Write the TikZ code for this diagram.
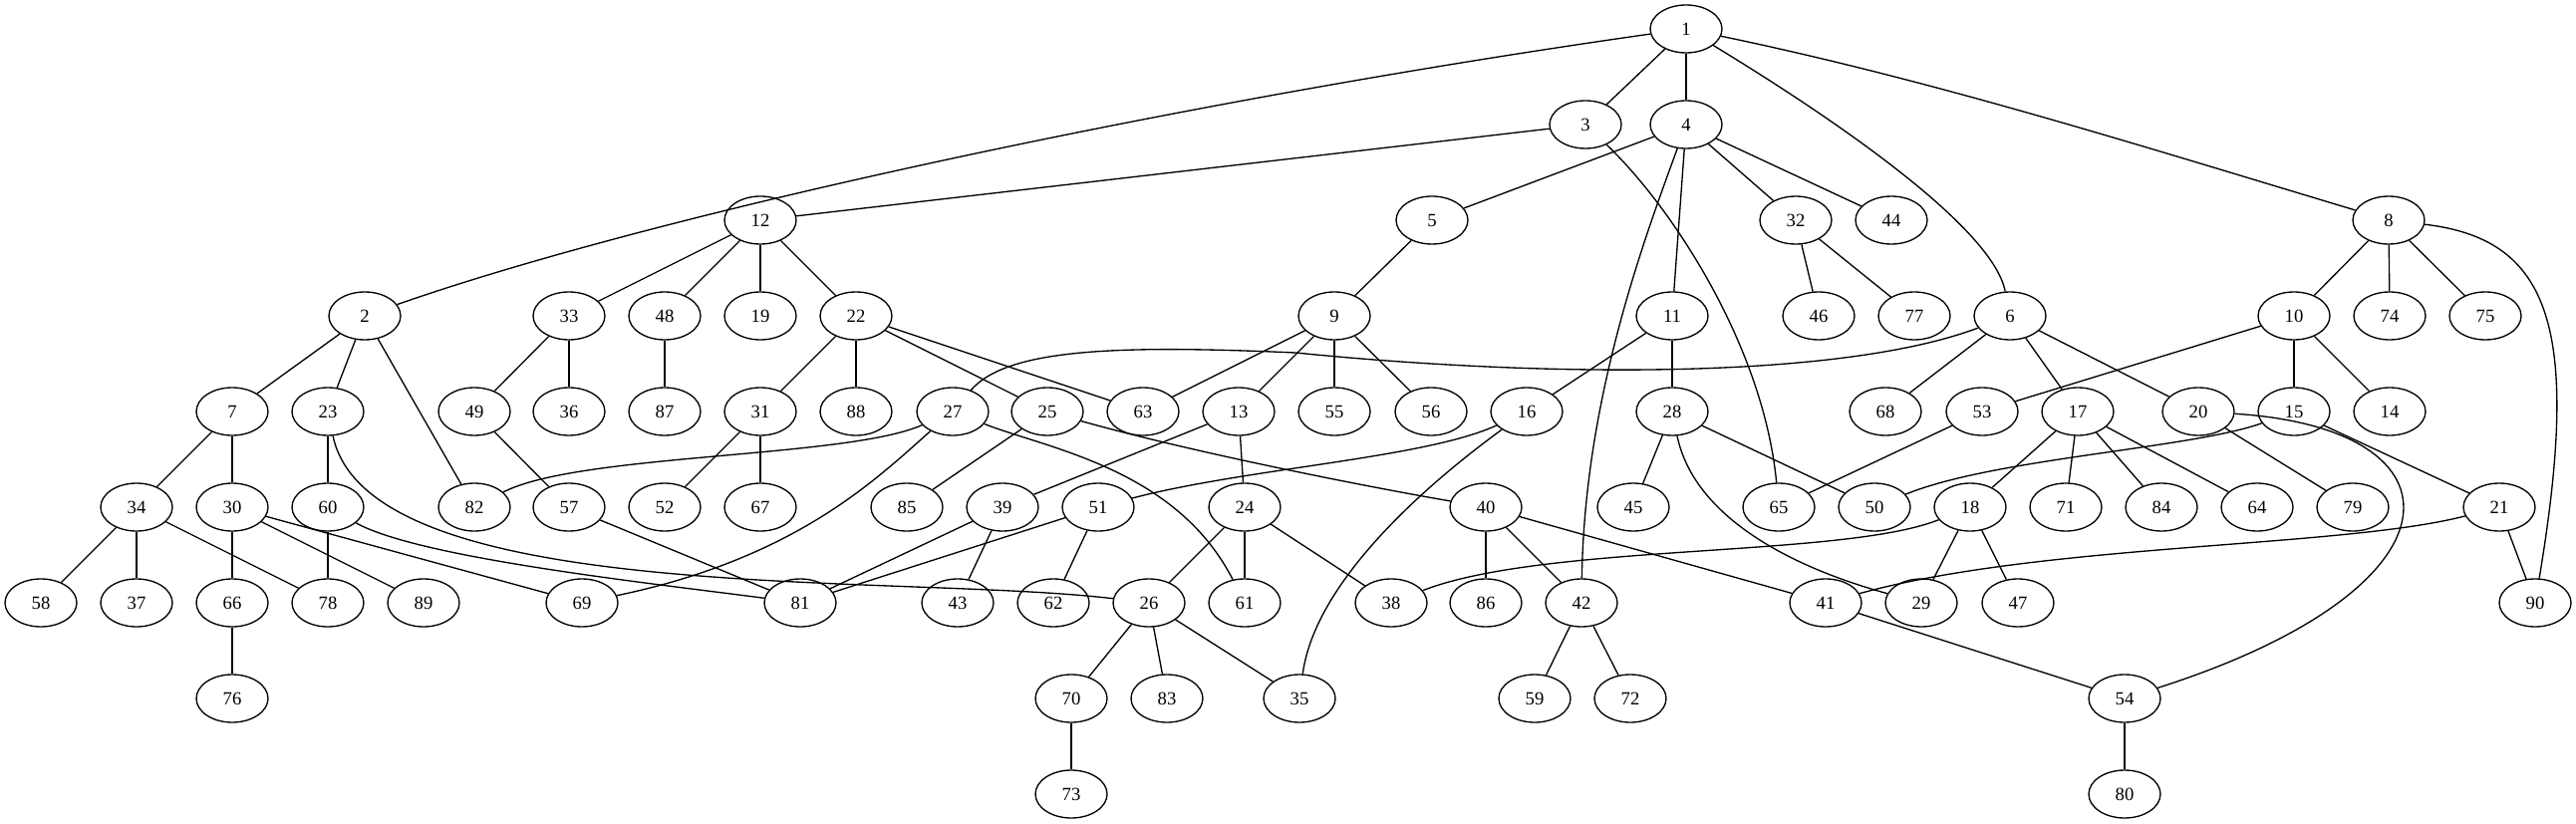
\documentclass[tikz,border=0pt]{standalone}
\usepackage{fontspec}
\setmainfont{Liberation Serif}
\usetikzlibrary{shapes.geometric}
\tikzset{vtx/.style={draw,ellipse,line width=1pt,minimum width=54pt,minimum height=36pt,inner sep=0pt,font=\fontsize{14}{16}\selectfont}}

\begin{document}
\begin{tikzpicture}[x=0.75pt,y=-0.75pt,line width=1pt]
\useasboundingbox (0,0) rectangle (2585,827);
% rank 0 and 1
\node[vtx] (n1) at (1692,29) {1};
\node[vtx] (n3) at (1591,125) {3};
\node[vtx] (n4) at (1692,125) {4};
% rank 2
\node[vtx] (n12) at (763,221) {12};
\node[vtx] (n5) at (1437,221) {5};
\node[vtx] (n32) at (1802,221) {32};
\node[vtx] (n44) at (1898,221) {44};
\node[vtx] (n8) at (2397,221) {8};
% rank 3
\node[vtx] (n2) at (366,317) {2};
\node[vtx] (n33) at (571,317) {33};
\node[vtx] (n48) at (667,317) {48};
\node[vtx] (n19) at (763,317) {19};
\node[vtx] (n22) at (859,317) {22};
\node[vtx] (n9) at (1339,317) {9};
\node[vtx] (n11) at (1678,317) {11};
\node[vtx] (n46) at (1825,317) {46};
\node[vtx] (n77) at (1921,317) {77};
\node[vtx] (n6) at (2017,317) {6};
\node[vtx] (n10) at (2302,317) {10};
\node[vtx] (n74) at (2398,317) {74};
\node[vtx] (n75) at (2494,317) {75};
% rank 4
\node[vtx] (n7) at (233,413) {7};
\node[vtx] (n23) at (329,413) {23};
\node[vtx] (n49) at (476,413) {49};
\node[vtx] (n36) at (571,413) {36};
\node[vtx] (n87) at (667,413) {87};
\node[vtx] (n31) at (763,413) {31};
\node[vtx] (n88) at (859,413) {88};
\node[vtx] (n27) at (956,413) {27};
\node[vtx] (n25) at (1051,413) {25};
\node[vtx] (n63) at (1147,413) {63};
\node[vtx] (n13) at (1243,413) {13};
\node[vtx] (n55) at (1339,413) {55};
\node[vtx] (n56) at (1436,413) {56};
\node[vtx] (n16) at (1532,413) {16};
\node[vtx] (n28) at (1678,413) {28};
\node[vtx] (n68) at (1892,413) {68};
\node[vtx] (n53) at (1989,413) {53};
\node[vtx] (n17) at (2085,413) {17};
\node[vtx] (n20) at (2206,413) {20};
\node[vtx] (n15) at (2302,413) {15};
\node[vtx] (n14) at (2398,413) {14};
% rank 5
\node[vtx] (n34) at (137,509) {34};
\node[vtx] (n30) at (233,509) {30};
\node[vtx] (n60) at (329,509) {60};
\node[vtx] (n82) at (476,509) {82};
\node[vtx] (n57) at (571,509) {57};
\node[vtx] (n52) at (667,509) {52};
\node[vtx] (n67) at (763,509) {67};
\node[vtx] (n85) at (910,509) {85};
\node[vtx] (n39) at (1006,509) {39};
\node[vtx] (n51) at (1102,509) {51};
\node[vtx] (n24) at (1249,509) {24};
\node[vtx] (n40) at (1491,509) {40};
\node[vtx] (n45) at (1639,509) {45};
\node[vtx] (n65) at (1785,509) {65};
\node[vtx] (n50) at (1881,509) {50};
\node[vtx] (n18) at (1977,509) {18};
\node[vtx] (n71) at (2073,509) {71};
\node[vtx] (n84) at (2169,509) {84};
\node[vtx] (n64) at (2265,509) {64};
\node[vtx] (n79) at (2361,509) {79};
\node[vtx] (n21) at (2508,509) {21};
% rank 6
\node[vtx] (n58) at (41,605) {58};
\node[vtx] (n37) at (137,605) {37};
\node[vtx] (n66) at (233,605) {66};
\node[vtx] (n78) at (329,605) {78};
\node[vtx] (n89) at (425,605) {89};
\node[vtx] (n69) at (584,605) {69};
\node[vtx] (n81) at (803,605) {81};
\node[vtx] (n43) at (961,605) {43};
\node[vtx] (n62) at (1057,605) {62};
\node[vtx] (n26) at (1153,605) {26};
\node[vtx] (n61) at (1249,605) {61};
\node[vtx] (n38) at (1396,605) {38};
\node[vtx] (n86) at (1491,605) {86};
\node[vtx] (n42) at (1587,605) {42};
\node[vtx] (n41) at (1832,605) {41};
\node[vtx] (n29) at (1928,605) {29};
\node[vtx] (n47) at (2025,605) {47};
\node[vtx] (n90) at (2544,605) {90};
% rank 7 and 8
\node[vtx] (n76) at (233,701) {76};
\node[vtx] (n70) at (1075,701) {70};
\node[vtx] (n83) at (1171,701) {83};
\node[vtx] (n35) at (1304,701) {35};
\node[vtx] (n59) at (1540,701) {59};
\node[vtx] (n72) at (1636,701) {72};
\node[vtx] (n54) at (2132,701) {54};
\node[vtx] (n73) at (1075,797) {73};
\node[vtx] (n80) at (2132,797) {80};

% straight edges
\draw (n1) -- (n3); \draw (n1) -- (n4);
\draw (n4) -- (n5); \draw (n4) -- (n11); \draw (n4) -- (n32); \draw (n4) -- (n44);
\draw (n3) -- (n12);
\draw (n12) -- (n33); \draw (n12) -- (n48); \draw (n12) -- (n19); \draw (n12) -- (n22);
\draw (n5) -- (n9);
\draw (n32) -- (n46); \draw (n32) -- (n77);
\draw (n8) -- (n10); \draw (n8) -- (n74); \draw (n8) -- (n75);
\draw (n2) -- (n7); \draw (n2) -- (n23); \draw (n2) -- (n82);
\draw (n33) -- (n49); \draw (n33) -- (n36);
\draw (n48) -- (n87);
\draw (n22) -- (n31); \draw (n22) -- (n88); \draw (n22) -- (n25); \draw (n22) -- (n63);
\draw (n9) -- (n63); \draw (n9) -- (n13); \draw (n9) -- (n55); \draw (n9) -- (n56);
\draw (n11) -- (n16); \draw (n11) -- (n28);
\draw (n6) -- (n68); \draw (n6) -- (n17); \draw (n6) -- (n20);
\draw (n10) -- (n53); \draw (n10) -- (n15); \draw (n10) -- (n14);
\draw (n7) -- (n34); \draw (n7) -- (n30);
\draw (n23) -- (n60);
\draw (n49) -- (n57);
\draw (n31) -- (n52); \draw (n31) -- (n67);
\draw (n25) -- (n85);
\draw (n13) -- (n39); \draw (n13) -- (n24);
\draw (n28) -- (n45); \draw (n28) -- (n50);
\draw (n53) -- (n65);
\draw (n17) -- (n18); \draw (n17) -- (n71); \draw (n17) -- (n84); \draw (n17) -- (n64);
\draw (n20) -- (n79);
\draw (n15) -- (n21);
\draw (n34) -- (n58); \draw (n34) -- (n37); \draw (n34) -- (n78);
\draw (n30) -- (n66); \draw (n30) -- (n89); \draw (n30) -- (n69);
\draw (n60) -- (n78);
\draw (n57) -- (n81);
\draw (n39) -- (n81); \draw (n39) -- (n43);
\draw (n51) -- (n81); \draw (n51) -- (n62);
\draw (n24) -- (n26); \draw (n24) -- (n61); \draw (n24) -- (n38);
\draw (n40) -- (n86); \draw (n40) -- (n42); \draw (n40) -- (n41);
\draw (n18) -- (n29); \draw (n18) -- (n47);
\draw (n21) -- (n90);
\draw (n26) -- (n70); \draw (n26) -- (n83); \draw (n26) -- (n35);
\draw (n42) -- (n59); \draw (n42) -- (n72);
\draw (n41) -- (n54);
\draw (n66) -- (n76);
\draw (n70) -- (n73);
\draw (n54) -- (n80);

% curved edges
\draw (n1) .. controls (1192,100) and (666,212) .. (n2);
\draw (n1) .. controls (1850,125) and (2000,230) .. (n6);
\draw (n1) .. controls (1942,81) and (2147,146) .. (n8);
\draw (n3) .. controls (1680,210) and (1770,350) .. (n65);
\draw (n4) .. controls (1650,240) and (1590,400) .. (n42);
\draw (n8) .. controls (2560,240) and (2590,330) .. (n90);
\draw (n6) .. controls (1850,380) and (1560,380) .. (1300,354) .. controls (1120,346) and (1010,350) .. (n27);
\draw (n23) .. controls (370,610) and (900,575) .. (n26);
\draw (n60) .. controls (420,560) and (650,585) .. (n81);
\draw (n27) .. controls (850,460) and (580,455) .. (n82);
\draw (n27) .. controls (880,480) and (800,560) .. (n69);
\draw (n27) .. controls (1050,450) and (1180,470) .. (n61);
\draw (n25) .. controls (1200,455) and (1380,490) .. (n40);
\draw (n16) .. controls (1430,460) and (1250,470) .. (n51);
\draw (n16) .. controls (1440,480) and (1320,580) .. (n35);
\draw (n28) .. controls (1700,520) and (1800,570) .. (n29);
\draw (n15) .. controls (2200,450) and (2000,460) .. (n50);
\draw (n20) .. controls (2480,430) and (2480,590) .. (n54);
\draw (n18) .. controls (1850,560) and (1550,545) .. (n38);
\draw (n21) .. controls (2350,550) and (2050,545) .. (n41);
\end{tikzpicture}
\end{document}
